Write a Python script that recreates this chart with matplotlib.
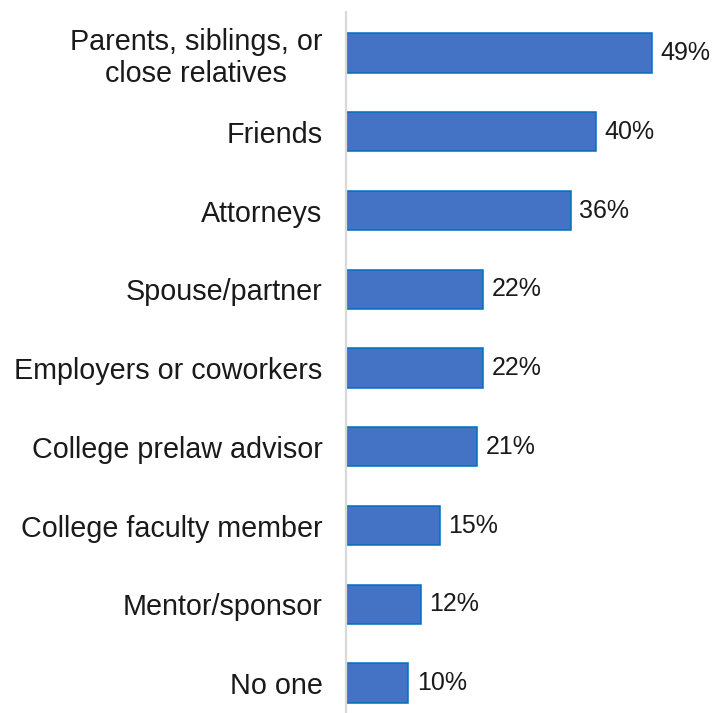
import matplotlib.pyplot as plt

plt.rcParams['font.family'] = ['Liberation Sans', 'DejaVu Sans']

categories = [
    'Parents, siblings, or\nclose relatives',
    'Friends',
    'Attorneys',
    'Spouse/partner',
    'Employers or coworkers',
    'College prelaw advisor',
    'College faculty member',
    'Mentor/sponsor',
    'No one',
]
values = [49, 40, 36, 22, 22, 21, 15, 12, 10]

fig = plt.figure(figsize=(7.13, 7.13), dpi=100)
ax = fig.add_axes([346 / 713, 0, 367 / 713, 1 - 12 / 713])

pos = list(range(len(categories)))
ax.barh(pos, values, height=0.5, color='#4472C4', edgecolor='#0070C0',
        linewidth=1.1, zorder=2)

for y, v in zip(pos, values):
    ax.annotate(f'{v}%', xy=(v, y), xytext=(6, 0), textcoords='offset points',
                va='center', ha='left', fontsize=18, color='#1a1a1a')

ax.set_xlim(0, 58.8)
ax.set_ylim(8.381, -0.521)
ax.set_yticks(pos)
ax.set_yticklabels(categories, fontsize=20.7, color='#1a1a1a',
                   multialignment='center', linespacing=1.2)
ax.tick_params(axis='y', length=0, pad=17)
ax.tick_params(axis='x', bottom=False, labelbottom=False)

for side in ['top', 'right', 'bottom']:
    ax.spines[side].set_visible(False)
ax.spines['left'].set_color('#D9D9D9')
ax.spines['left'].set_linewidth(1.6)

fig.savefig('out.png', dpi=100)
